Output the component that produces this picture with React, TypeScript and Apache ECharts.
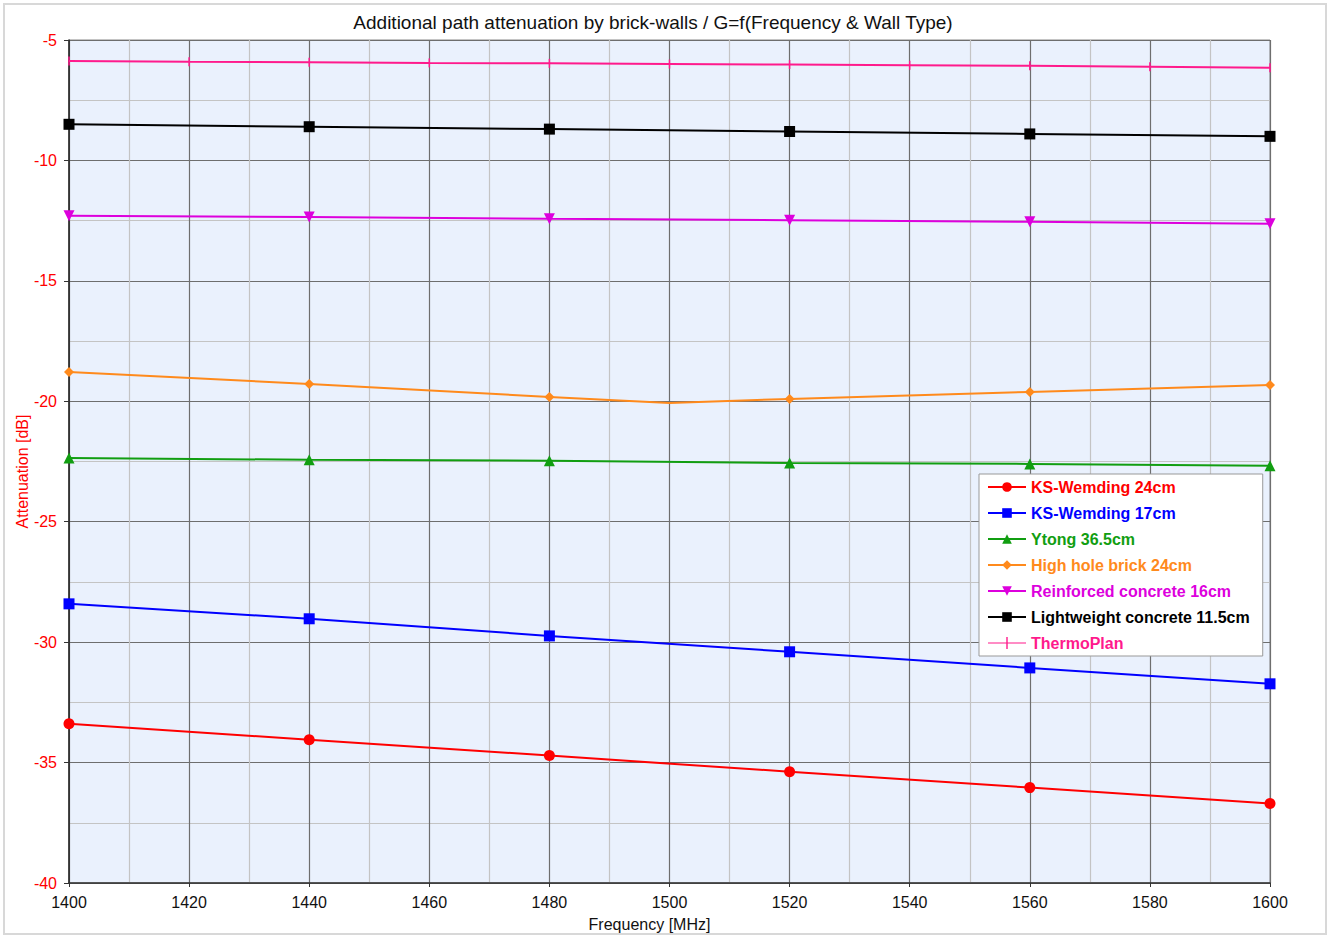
import React, { useEffect, useRef } from "react";
import * as echarts from "echarts";

const freqs = [1400, 1440, 1480, 1520, 1560, 1600];
const freqsHoleBrick = [1400, 1440, 1480, 1500, 1520, 1560, 1600];
const freqsThermo = [1400, 1420, 1440, 1460, 1480, 1500, 1520, 1540, 1560, 1580, 1600];

const ksWemding24 = [-33.39, -34.05, -34.71, -35.38, -36.04, -36.7];
const ksWemding17 = [-28.41, -29.03, -29.74, -30.4, -31.07, -31.73];
const ytong365 = [-22.35, -22.43, -22.47, -22.56, -22.6, -22.68];
const highHoleBrick24 = [-18.78, -19.28, -19.82, -20.07, -19.9, -19.61, -19.32];
const reinforced16 = [-12.3, -12.35, -12.42, -12.48, -12.55, -12.63];
const lightweight115 = [-8.5, -8.6, -8.7, -8.8, -8.9, -9.0];
const thermoPlan = [-5.87, -5.9, -5.92, -5.95, -5.97, -6.0, -6.02, -6.05, -6.07, -6.11, -6.15];

const names = [
  "KS-Wemding 24cm",
  "KS-Wemding 17cm",
  "Ytong 36.5cm",
  "High hole brick 24cm",
  "Reinforced concrete 16cm",
  "Lightweight concrete 11.5cm",
  "ThermoPlan",
];
const colors = ["#ff0000", "#0000ff", "#119e11", "#ff8a1c", "#dd00dd", "#000000", "#ff1a8c"];

const FONT = "'Liberation Sans', Arial, sans-serif";
const PLUS_ICON = "path://M0,5.4 L38,5.4 L38,6.6 L0,6.6 Z M18.3,0 L19.7,0 L19.7,12 L18.3,12 Z";

export default function App() {
  const ref = useRef<HTMLDivElement>(null);
  useEffect(() => {
    if (!ref.current) return;
    const chart = echarts.init(ref.current, undefined, { renderer: "svg" });
    const pair = (xs: number[], ys: number[]) => xs.map((x, i) => [x, ys[i]]);
    const mk = (i: number, data: any[], symbol: string, size: any, extra: any = {}) => ({
      name: names[i],
      type: "line",
      data,
      symbol,
      symbolSize: size,
      showSymbol: true,
      lineStyle: { color: colors[i], width: 2 },
      itemStyle: { color: colors[i] },
      z: 10 - i,
      ...extra,
    });
    const holeData = freqsHoleBrick.map((x, i) =>
      x === 1500 ? { value: [x, highHoleBrick24[i]], symbol: "none" } : [x, highHoleBrick24[i]]
    );
    chart.setOption({
      animation: false,
      backgroundColor: "#ffffff",
      textStyle: { fontFamily: FONT },
      title: {
        text: "Additional path attenuation by brick-walls / G=f(Frequency & Wall Type)",
        left: 648,
        textAlign: "center",
        top: 8,
        textStyle: { fontFamily: FONT, fontSize: 19, fontWeight: "normal", color: "#111" },
      },
      graphic: [
        {
          type: "rect",
          shape: { x: 4, y: 4, width: 1322, height: 930 },
          style: { fill: "none", stroke: "#d8d8d8", lineWidth: 2 },
          silent: true,
          z: -10,
        },
      ],
      legend: {
        orient: "vertical",
        left: 979,
        top: 474,
        padding: [5, 13, 5, 8],
        itemGap: 10,
        itemWidth: 38,
        itemHeight: 12,
        backgroundColor: "#ffffff",
        borderColor: "#999999",
        borderWidth: 1,
        data: names.map((n, i) => {
          const item: any = {
            name: n,
            textStyle: { color: colors[i], fontWeight: "bold", fontSize: 16, fontFamily: FONT },
          };
          if (i === 6) item.icon = PLUS_ICON;
          return item;
        }),
        textStyle: { fontFamily: FONT, fontSize: 16, fontWeight: "bold" },
      },
      grid: {
        left: 69,
        width: 1201,
        top: 40,
        height: 843,
        show: true,
        backgroundColor: "#eaf1fd",
        borderColor: "#888888",
        borderWidth: 1,
      },
      xAxis: {
        type: "value",
        min: 1400,
        max: 1600,
        interval: 20,
        name: "Frequency [MHz]",
        nameLocation: "middle",
        nameGap: 33,
        nameMoveOverlap: false,
        nameTextStyle: { color: "#111", fontSize: 16, fontFamily: FONT, padding: [0, 40, 0, 0] },
        axisLine: { show: true, lineStyle: { color: "#333", width: 1.5 } },
        axisTick: { show: true, length: 4, inside: false, lineStyle: { color: "#333" } },
        axisLabel: {
          color: "#111",
          fontSize: 16,
          margin: 11,
          fontFamily: FONT,
          formatter: (v: number) => String(v),
        },
        splitLine: { show: true, lineStyle: { color: "#6e6e6e", width: 1.2 } },
        minorTick: { show: false, splitNumber: 2 },
        minorSplitLine: { show: true, lineStyle: { color: "#c4c4c4", width: 1.2 } },
      },
      yAxis: {
        type: "value",
        min: -40,
        max: -5,
        interval: 5,
        name: "Attenuation [dB]",
        nameLocation: "middle",
        nameGap: 39,
        nameMoveOverlap: false,
        nameTextStyle: { color: "#ff0000", fontSize: 16, fontFamily: FONT, padding: [0, 20, 0, 0] },
        axisLine: { show: true, lineStyle: { color: "#222", width: 1.5 } },
        axisTick: { show: true, length: 5, lineStyle: { color: "#333" } },
        axisLabel: {
          color: "#ff0000",
          fontSize: 16,
          margin: 12,
          fontFamily: FONT,
          formatter: (v: number) => String(v),
        },
        splitLine: { show: true, lineStyle: { color: "#6e6e6e", width: 1.2 } },
        minorTick: { show: false, splitNumber: 2 },
        minorSplitLine: { show: true, lineStyle: { color: "#c4c4c4", width: 1.2 } },
      },
      series: [
        mk(0, pair(freqs, ksWemding24), "circle", 11),
        mk(1, pair(freqs, ksWemding17), "rect", 11),
        mk(2, pair(freqs, ytong365), "triangle", 11),
        mk(3, holeData, "diamond", 10),
        mk(4, pair(freqs, reinforced16), "triangle", 11, { symbolRotate: 180 }),
        mk(5, pair(freqs, lightweight115), "rect", 11),
        mk(6, pair(freqsThermo, thermoPlan), "path://M0,0 L1,0 L1,10 L0,10 Z", [1.5, 9]),
      ],
    });
    return () => chart.dispose();
  }, []);
  return (
    <div
      ref={ref}
      style={{ position: "fixed", left: 0, top: 0, width: 1333, height: 938 }}
    />
  );
}
